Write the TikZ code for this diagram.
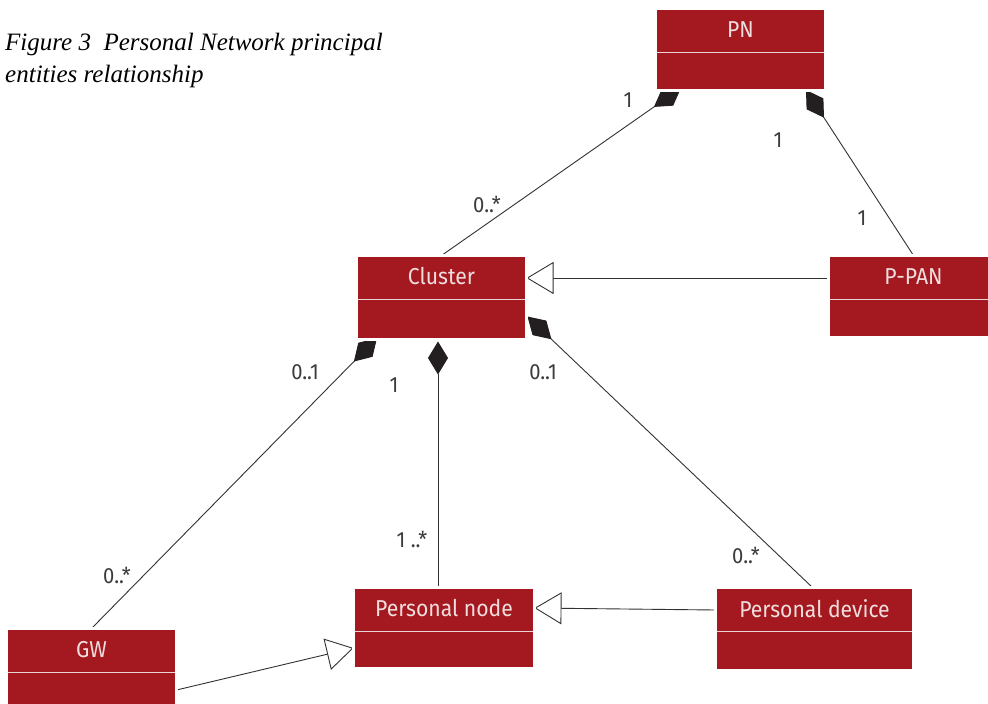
\documentclass[tikz,border=0pt]{standalone}
\usepackage{fontspec}
\setmainfont{Liberation Serif}
\newfontfamily\umlfont{Fira Sans}[FakeStretch=0.92]
\usetikzlibrary{arrows.meta}

\pgfdeclarelayer{paper}
\pgfdeclarelayer{connectors}
\pgfsetlayers{paper,connectors,main}

\definecolor{boxred}{RGB}{164,25,31}
\definecolor{boxtextcol}{RGB}{240,222,222}
\definecolor{dividercol}{RGB}{232,214,214}
\definecolor{linegray}{RGB}{50,50,50}
\definecolor{multcol}{RGB}{60,60,60}
\definecolor{diamondfill}{RGB}{35,31,32}

% one UML class: name, centre x, centre y, width, height, label
\newcommand\umlclass[6]{%
  \node[umlbox, minimum width=#4pt, minimum height=#5pt] (#1) at (#2,#3) {};
  \node[boxtext] (#1-name) at ([yshift=-21pt]#1.north) {#6};
  \draw[divider] ([shift={(1.5pt,-44pt)}]#1.north west) -- ([shift={(-1.5pt,-44pt)}]#1.north east);
}

\begin{document}
\begin{tikzpicture}[x=1pt,y=-1pt,
  umlbox/.style={rectangle, fill=boxred, draw=white, line width=3pt, outer sep=0pt, inner sep=0pt},
  boxtext/.style={text=boxtextcol, font=\umlfont\fontsize{23}{26}\selectfont, inner sep=0pt},
  divider/.style={draw=dividercol, line width=1.2pt},
  conn/.style={draw=linegray, line width=0.9pt},
  comp/.style={conn, {Diamond[length=33pt,width=20pt,fill=diamondfill,color=diamondfill]}-},
  gen/.style={conn, -{Triangle[length=27pt,width=32pt,fill=white,line width=0.9pt]}},
  mult/.style={text=multcol, font=\umlfont\fontsize{22}{25}\selectfont, inner sep=0pt},
  caption/.style={anchor=base west, inner sep=0pt, font=\itshape\fontsize{25}{30}\selectfont}
]
\useasboundingbox (0,0) rectangle (988,704);
\begin{pgfonlayer}{paper}
  \fill[white] (0,0) rectangle (988,704);
\end{pgfonlayer}
\clip (0,0) rectangle (988,704);

% caption
\node[caption] (title1) at (5,50) {Figure 3\hspace{0.25em} Personal Network principal};
\node[caption] (title2) at (5,82) {entities relationship};

% classes
\umlclass{pn}{740.5}{49.5}{170}{82}{PN}
\umlclass{cluster}{441.5}{297.5}{170}{84}{Cluster}
\umlclass{ppan}{913.5}{296.5}{170}{82}{P-PAN}
\umlclass{pnode}{444}{628}{181}{81}{Personal node}
\umlclass{pdev}{814.5}{629}{198}{83}{Personal device}
\umlclass{gw}{91.5}{670}{170}{83}{GW}

% associations
\begin{pgfonlayer}{connectors}
  \draw[comp] ([shift={(25.5pt,2.5pt)}]pn.south west) -- (cluster.north);
  \draw[comp] ([shift={(-19.5pt,0.5pt)}]pn.south east) -- (ppan.north);
  \draw[comp] ([shift={(20.5pt,1.5pt)}]cluster.south west) -- (gw.north);
  \draw[comp] ([shift={(-3.5pt,-2pt)}]cluster.south) -- ([xshift=-6pt]pnode.north);
  \draw[comp] ([shift={(1pt,23pt)}]cluster.south east) -- ([xshift=-2pt]pdev.north);
  \draw[gen] ([yshift=18.5pt]ppan.west) -- ([yshift=19.5pt]cluster.east);
  \draw[gen] ([yshift=19pt]pdev.west) -- ([yshift=20pt]pnode.east);
  \draw[gen] ([yshift=-20pt]gw.east) -- ([yshift=-20pt]pnode.west);
\end{pgfonlayer}

% multiplicities
\node[mult] (m1) at (628,100) {1};
\node[mult] (m2) at (487,205) {0..*};
\node[mult] (m3) at (778,140) {1};
\node[mult] (m4) at (862,218) {1};
\node[mult] (m5) at (305,372) {0..1};
\node[mult] (m6) at (394,385) {1};
\node[mult] (m7) at (543,372) {0..1};
\node[mult] (m8) at (412,539) {1 ..*};
\node[mult] (m9) at (746,555) {0..*};
\node[mult] (m10) at (117,575) {0..*};
\end{tikzpicture}
\end{document}
